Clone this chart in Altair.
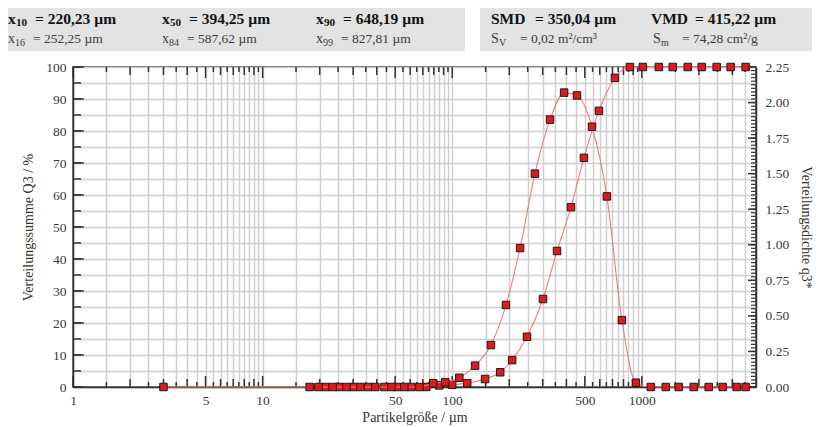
import altair as alt
import pandas as pd

# ---------------- data ----------------
# cumulative distribution Q3 (%) at class upper bounds (µm)
q3_size = [3.0, 17.7, 21.5, 25.4, 30.1, 36.1, 43.9, 51.3, 60.8, 73.0,
           85.4, 100, 120, 149, 179, 207, 248, 301, 357, 423,
           495, 594, 721, 865, 1012, 1229, 1456, 1746, 2069, 2481,
           2940, 3527]
q3_value = [0, 0, 0, 0, 0, 0, 0, 0, 0, 0,
            0.5, 0.7, 1.2, 2.5, 4.6, 8.4, 15.7, 27.5, 42.5, 56.2,
            71.6, 86.3, 96.6, 100, 100, 100, 100, 100, 100, 100,
            100, 100]

# density distribution q3* at class mid points (µm)
dens_size = [19.7, 23.4, 27.7, 32.8, 39.3, 47.8, 55.9, 67.1, 79.4, 91.9,
             109, 132, 160, 192, 228, 273, 328, 389, 455, 546,
             654, 785, 930, 1115, 1337, 1565, 1878, 2252, 2669, 3162,
             3527]
dens_value = [0, 0, 0, 0, 0, 0, 0, 0, 0.026, 0.033,
              0.065, 0.15, 0.295, 0.577, 0.977, 1.50, 1.88, 2.07, 2.05, 1.83,
              1.34, 0.47, 0.03, 0, 0, 0, 0, 0, 0, 0,
              0]

# axis ticks / labels
x_labels = [1, 5, 10, 50, 100, 500, 1000]
x_mid_ticks = [2, 3, 4, 6, 7, 8, 9, 20, 30, 40, 60, 70, 80, 90,
               200, 300, 400, 600, 700, 800, 900, 2000, 3000]
x_half_ticks = [m * d for d in (1, 10, 100, 1000)
                for m in (1.5, 2.5, 3.5, 4.5, 5.5, 6.5, 7.5, 8.5, 9.5) if m * d <= 4000]
x_all_ticks = sorted(x_labels + x_mid_ticks + x_half_ticks)
left_major = list(range(0, 101, 10))
left_all = list(range(0, 101, 5))
right_major = [0, 0.25, 0.5, 0.75, 1.0, 1.25, 1.5, 1.75, 2.0, 2.25]
right_minor = [round(i * 0.025, 3) for i in range(91)]

# header statistics: (symbol, subscript, value)
head_row1_left = [("x", "10", "= 220,23 µm"), ("x", "50", "= 394,25 µm"), ("x", "90", "= 648,19 µm")]
head_row2_left = [("x", "16", "= 252,25 µm"), ("x", "84", "= 587,62 µm"), ("x", "99", "= 827,81 µm")]
head_row1_right = [("SMD", "", "= 350,04 µm"), ("VMD", "", "= 415,22 µm")]
head_row2_right = [("S", "V", "= 0,02 m²/cm³"), ("S", "m", "= 74,28 cm²/g")]

# ---------------- layout ----------------
W, H = 683, 320
FONT = "Liberation Serif"
RED = "#e0191c"
LINE = "#f27c7c"
GRID = "#cfcfcf"
AX = "#333333"

xscale = alt.Scale(type="log", domain=[1, 4000], nice=False)
yL = alt.Scale(domain=[0, 100], nice=False, zero=True)
yR = alt.Scale(domain=[0, 2.25], nice=False, zero=True)

x_axis = alt.Axis(values=x_all_ticks, grid=True, gridColor=GRID, gridWidth=1.5,
                  ticks=False, labelFlush=False, labelOverlap=False,
                  labelExpr="indexof([1,5,10,50,100,500,1000], datum.value) >= 0 ? '' + datum.value : ''",
                  labelPadding=6, title="Partikelgröße / µm", titlePadding=4,
                  domainColor=AX, domainWidth=1.5)
yL_axis = alt.Axis(values=left_all, grid=True, gridColor=GRID, gridWidth=1.5, ticks=False,
                   labelExpr="datum.value % 10 == 0 ? datum.label : ''",
                   labelPadding=7, title="Verteilungssumme Q3 / %", titlePadding=10,
                   domainColor=AX, domainWidth=1.5)
yR_axis = alt.Axis(values=right_major, orient="right", grid=False, ticks=False, format=".2f",
                   labelPadding=9, title="Verteilungsdichte q3*", titlePadding=10,
                   domainColor=AX, domainWidth=1.5)

def X(field="v"):
    return alt.X(f"{field}:Q", scale=xscale, axis=x_axis)

def YL(field="v"):
    return alt.Y(f"{field}:Q", scale=yL, axis=yL_axis)

def YR(field="v"):
    return alt.Y(f"{field}:Q", scale=yR, axis=yR_axis)

q3_df = pd.DataFrame({"size": q3_size, "val": q3_value})
dens_df = pd.DataFrame({"size": dens_size, "val": dens_value})
one = pd.DataFrame({"a": [0]})

# header boxes and texts
boxes = [
    alt.Chart(one).mark_rect(color="#e3e3e3").encode(
        x=alt.value(-65), x2=alt.value(392), y=alt.value(-59), y2=alt.value(-16)),
    alt.Chart(one).mark_rect(color="#e3e3e3").encode(
        x=alt.value(407), x2=alt.value(739), y=alt.value(-59), y2=alt.value(-16)),
]

def txt(t, x, y, size, bold, color):
    return alt.Chart(one).mark_text(text=t, font=FONT, fontSize=size,
                                    fontWeight="bold" if bold else "normal",
                                    align="left", baseline="middle", color=color
                                    ).encode(x=alt.value(x), y=alt.value(y))

def entry(sym, sub, val, x, y, val_dx, bold, sym_w):
    size = 15.5 if bold else 14
    color = "#111" if bold else "#3a3a3a"
    out = [txt(sym, x, y, size, bold, color)]
    if sub:
        out.append(txt(sub, x + sym_w, y + 4, size * 0.72, bold, color))
    out.append(txt(val, x + val_dx, y, size if bold else 13.5, bold, color))
    return out

texts = []
ROW1, ROW2 = -48, -28
for i, (s, b, v) in enumerate(head_row1_left):
    texts += entry(s, b, v, -65 + i * 154, ROW1, 27, True, 8)
for i, (s, b, v) in enumerate(head_row2_left):
    texts += entry(s, b, v, -65 + i * 154, ROW2, 25, False, 7)
for i, (s, b, v) in enumerate(head_row1_right):
    texts += entry(s, b, v, 418 + i * 160, ROW1, 44, True, 0)
for i, (s, b, v) in enumerate(head_row2_right):
    texts += entry(s, b, v, 418 + i * 162, ROW2, 29, False, 8)

# inward ticks
def xticks(vals, length):
    d = pd.DataFrame({"v": vals})
    bottom = alt.Chart(d).mark_rule(color=AX, strokeWidth=1.5).encode(
        x=X(), y=alt.value(H), y2=alt.value(H - length))
    top = alt.Chart(d).mark_rule(color=AX, strokeWidth=1.5).encode(
        x=X(), y=alt.value(0), y2=alt.value(length))
    return [bottom, top]

tick_layers = xticks(x_labels, 11) + xticks(x_mid_ticks, 8) + xticks(x_half_ticks, 5)
left_ticks = [
    alt.Chart(pd.DataFrame({"v": left_all})).mark_rule(color=AX, strokeWidth=1.5).encode(
        y=YL(), x=alt.value(0), x2=alt.value(8)),
    alt.Chart(pd.DataFrame({"v": left_major})).mark_rule(color=AX, strokeWidth=1.5).encode(
        y=YL(), x=alt.value(0), x2=alt.value(11)),
]
right_ticks = [
    alt.Chart(pd.DataFrame({"v": right_minor})).mark_rule(color=AX, strokeWidth=1.2).encode(
        y=YR(), x=alt.value(W), x2=alt.value(W - 5)),
    alt.Chart(pd.DataFrame({"v": right_major})).mark_rule(color=AX, strokeWidth=1.5).encode(
        y=YR(), x=alt.value(W), x2=alt.value(W - 8)),
]

q3_line = alt.Chart(q3_df).mark_line(color=LINE, strokeWidth=1.1, interpolate="monotone").encode(
    x=X("size"), y=YL("val"))
q3_pts = alt.Chart(q3_df).mark_square(size=56, fill=RED, stroke="#1a1a1a", strokeWidth=1,
                                      opacity=1).encode(x=X("size"), y=YL("val"))
d_line = alt.Chart(dens_df).mark_line(color=LINE, strokeWidth=1.1, interpolate="monotone").encode(
    x=X("size"), y=YR("val"))
d_pts = alt.Chart(dens_df).mark_square(size=56, fill=RED, stroke="#1a1a1a", strokeWidth=1,
                                       opacity=1).encode(x=X("size"), y=YR("val"))

left = alt.layer(*boxes, *texts, *tick_layers, *left_ticks, q3_line, q3_pts)
right = alt.layer(*right_ticks, d_line, d_pts)

chart = (
    alt.layer(left, right)
    .resolve_scale(y="independent")
    .properties(width=W, height=H, padding=0, background="white")
    .configure_view(stroke=AX, strokeWidth=1.5)
    .configure_axis(labelFont=FONT, titleFont=FONT, labelFontSize=13.5, titleFontSize=14,
                    titleFontWeight="normal", labelColor="#3a3a3a", titleColor="#333")
)

chart.save("out.html", embed_options={"renderer": "svg", "actions": False})
